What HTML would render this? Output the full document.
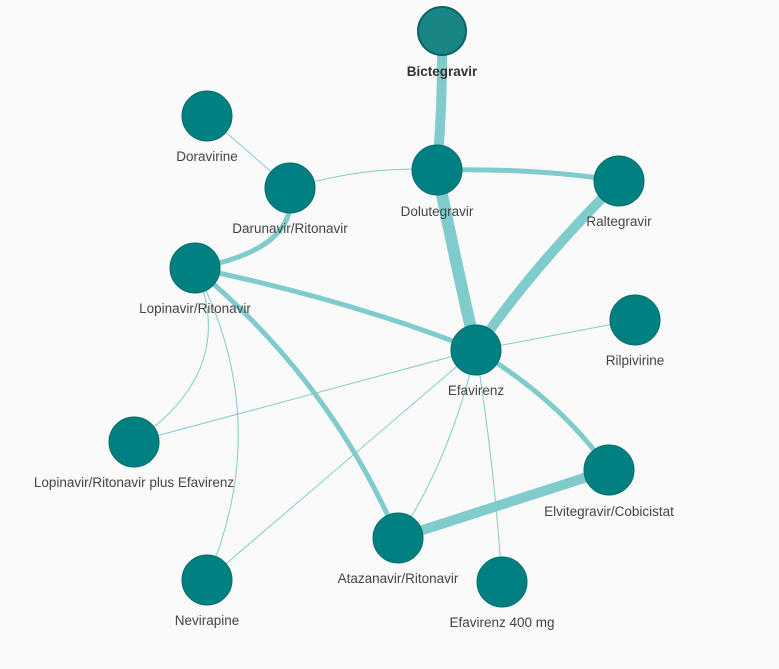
<!DOCTYPE html>
<html><head><meta charset="utf-8"><style>
html,body{margin:0;padding:0;background:#fafafa;}
svg{display:block;}
text{font-family:"Liberation Sans",sans-serif;font-size:13.5px;fill:#444;text-anchor:middle;}
</style></head><body>
<svg width="779" height="669" viewBox="0 0 779 669">
<g fill="none" stroke="#80cccc" stroke-linecap="round">
<path d="M442 31 Q443 100 437 170" stroke-width="10"/>
<path d="M437 170 Q455 260 476 350" stroke-width="12"/>
<path d="M437 170 Q540 168 619 181" stroke-width="5"/>
<path d="M619 181 Q530 270 476 350" stroke-width="10"/>
<path d="M290 188 Q370 165 437 170" stroke-width="1"/>
<path d="M207 116 L290 188" stroke-width="1"/>
<path d="M290 188 Q300 250 195 268" stroke-width="5"/>
<path d="M195 268 Q350 300 476 350" stroke-width="5"/>
<path d="M195 268 Q330 380 398 538" stroke-width="5"/>
<path d="M195 268 Q240 370 134 442" stroke-width="1"/>
<path d="M195 268 Q275 420 207 580" stroke-width="1"/>
<path d="M476 350 L635 320" stroke-width="1"/>
<path d="M476 350 L134 442" stroke-width="1"/>
<path d="M476 350 L207 580" stroke-width="1"/>
<path d="M476 350 Q450 460 398 538" stroke-width="1"/>
<path d="M476 350 Q495 470 502 582" stroke-width="1"/>
<path d="M476 350 Q560 400 609 470" stroke-width="5"/>
<path d="M609 470 L398 538" stroke-width="10"/>
</g>
<g fill="#008080" stroke="#006b6b" stroke-width="1">
<circle cx="442" cy="31" r="24" fill="#1a8585" stroke="#0a6464" stroke-width="2"/>
<circle cx="207" cy="116" r="25"/>
<circle cx="290" cy="188" r="25"/>
<circle cx="437" cy="170" r="25"/>
<circle cx="619" cy="181" r="25"/>
<circle cx="195" cy="268" r="25"/>
<circle cx="476" cy="350" r="25"/>
<circle cx="635" cy="320" r="25"/>
<circle cx="134" cy="442" r="25"/>
<circle cx="609" cy="470" r="25"/>
<circle cx="398" cy="538" r="25"/>
<circle cx="502" cy="582" r="25"/>
<circle cx="207" cy="580" r="25"/>
</g>
<text x="442" y="76" style="font-weight:bold;fill:#333">Bictegravir</text>
<text x="207" y="161">Doravirine</text>
<text x="290" y="233">Darunavir/Ritonavir</text>
<text x="437" y="216">Dolutegravir</text>
<text x="619" y="226">Raltegravir</text>
<text x="195" y="313">Lopinavir/Ritonavir</text>
<text x="476" y="395">Efavirenz</text>
<text x="635" y="365">Rilpivirine</text>
<text x="134" y="487">Lopinavir/Ritonavir plus Efavirenz</text>
<text x="609" y="516">Elvitegravir/Cobicistat</text>
<text x="398" y="583">Atazanavir/Ritonavir</text>
<text x="502" y="627">Efavirenz 400 mg</text>
<text x="207" y="625">Nevirapine</text>
</svg>
</body></html>
